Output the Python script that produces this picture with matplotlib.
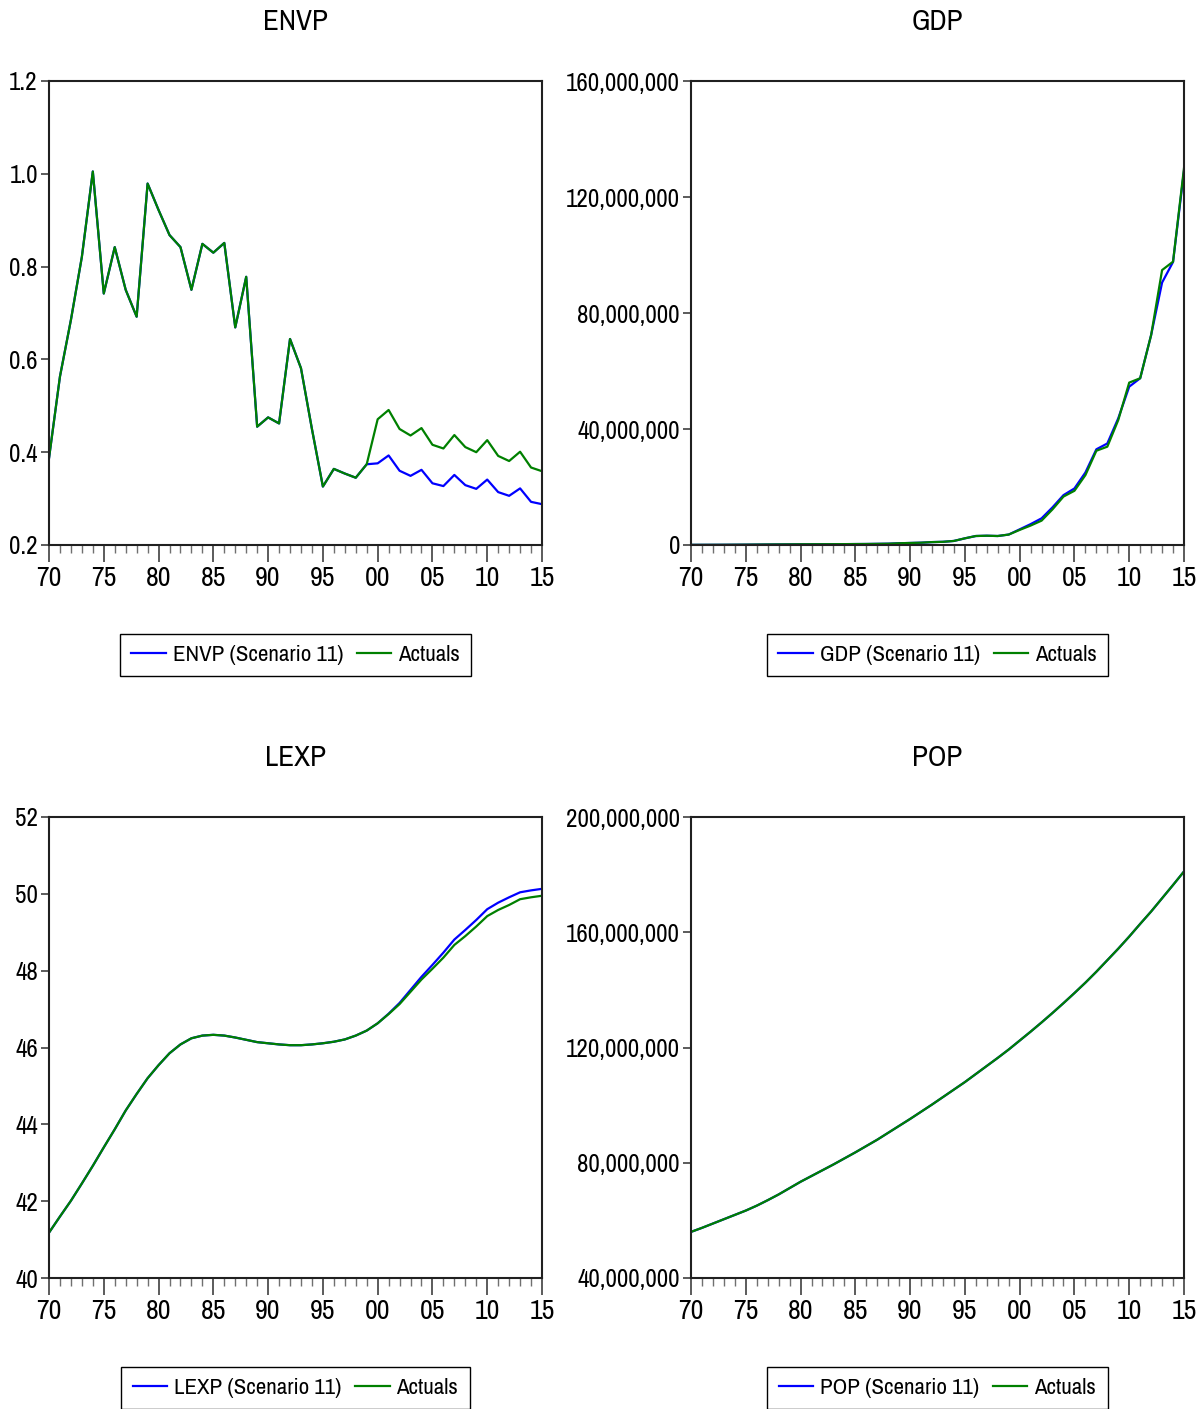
import matplotlib
matplotlib.use("Agg")
import matplotlib.pyplot as plt
from matplotlib.ticker import FuncFormatter, MultipleLocator

plt.rcParams['font.family'] = ['Archivo Narrow', 'DejaVu Sans']

years = list(range(1970, 2016))

# ENVP
envp_act = [0.387, 0.563, 0.685, 0.821, 1.005, 0.742, 0.842, 0.750, 0.692, 0.979,
            0.922, 0.868, 0.842, 0.750, 0.849, 0.830, 0.851, 0.669, 0.778, 0.455,
            0.475, 0.462, 0.644, 0.581, 0.450, 0.326, 0.364, 0.354, 0.345, 0.374,
            0.471, 0.491, 0.450, 0.436, 0.452, 0.416, 0.408, 0.437, 0.411, 0.400,
            0.426, 0.392, 0.381, 0.401, 0.367, 0.359]
envp_scen = [0.387, 0.563, 0.685, 0.821, 1.005, 0.742, 0.842, 0.750, 0.692, 0.979,
             0.922, 0.868, 0.842, 0.750, 0.849, 0.830, 0.851, 0.669, 0.778, 0.455,
             0.475, 0.462, 0.644, 0.581, 0.450, 0.326, 0.364, 0.354, 0.345, 0.374,
             0.376, 0.393, 0.360, 0.349, 0.362, 0.333, 0.327, 0.351, 0.329, 0.321,
             0.341, 0.314, 0.306, 0.322, 0.293, 0.288]

# GDP (millions)
gdp_act = [0.05, 0.06, 0.07, 0.08, 0.10, 0.12, 0.15, 0.18, 0.20, 0.22,
           0.25, 0.26, 0.27, 0.28, 0.30, 0.33, 0.35, 0.40, 0.45, 0.60,
           0.70, 0.80, 1.0, 1.1, 1.4, 2.3, 3.1, 3.2, 3.1, 3.6,
           5.2, 6.7, 8.4, 12.3, 16.7, 18.7, 24.1, 32.5, 33.9, 43.1,
           56.0, 57.5, 72.4, 94.8, 97.7, 130.0]
gdp_scen = [0.05, 0.06, 0.07, 0.08, 0.10, 0.12, 0.15, 0.18, 0.20, 0.22,
            0.25, 0.26, 0.27, 0.28, 0.30, 0.33, 0.35, 0.40, 0.45, 0.60,
            0.70, 0.80, 1.0, 1.1, 1.4, 2.3, 3.1, 3.2, 3.1, 3.6,
            5.4, 7.2, 9.2, 13.0, 17.2, 19.5, 25.0, 33.0, 35.0, 43.7,
            54.6, 57.5, 72.4, 90.5, 97.6, 129.0]

# LEXP
lexp_act = [41.18, 41.60, 42.01, 42.46, 42.92, 43.40, 43.87, 44.36, 44.79, 45.20,
            45.54, 45.85, 46.08, 46.24, 46.31, 46.33, 46.31, 46.26, 46.20, 46.14,
            46.11, 46.08, 46.06, 46.06, 46.08, 46.11, 46.15, 46.21, 46.31, 46.44,
            46.63, 46.87, 47.13, 47.45, 47.77, 48.05, 48.34, 48.67, 48.90, 49.15,
            49.42, 49.58, 49.71, 49.86, 49.91, 49.95]
lexp_scen = [41.18, 41.60, 42.01, 42.46, 42.92, 43.40, 43.87, 44.36, 44.79, 45.20,
             45.54, 45.85, 46.08, 46.24, 46.31, 46.33, 46.31, 46.26, 46.20, 46.14,
             46.11, 46.08, 46.06, 46.06, 46.08, 46.11, 46.15, 46.21, 46.31, 46.44,
             46.63, 46.88, 47.16, 47.50, 47.84, 48.15, 48.47, 48.81, 49.06, 49.32,
             49.60, 49.77, 49.91, 50.04, 50.09, 50.13]

# POP (millions)
pop_act = [56.0, 57.4, 58.9, 60.4, 61.9, 63.4, 65.1, 67.0, 69.0, 71.2,
           73.4, 75.4, 77.4, 79.4, 81.5, 83.6, 85.8, 88.0, 90.4, 92.8,
           95.2, 97.7, 100.2, 102.8, 105.4, 108.0, 110.8, 113.6, 116.4, 119.3,
           122.4, 125.5, 128.7, 132.0, 135.4, 138.9, 142.5, 146.3, 150.3, 154.3,
           158.5, 162.9, 167.2, 171.8, 176.4, 181.1]
pop_scen = [56.0, 57.4, 58.9, 60.4, 61.9, 63.4, 65.1, 67.0, 69.0, 71.2,
            73.4, 75.4, 77.4, 79.4, 81.5, 83.6, 85.8, 88.0, 90.4, 92.8,
            95.2, 97.7, 100.2, 102.8, 105.4, 108.0, 110.8, 113.6, 116.4, 119.3,
            122.4, 125.5, 128.7, 132.0, 135.4, 138.9, 142.5, 146.3, 150.3, 154.3,
            158.5, 162.9, 167.2, 171.8, 176.4, 181.1]

W, H = 1203, 1409
fig = plt.figure(figsize=(W / 100, H / 100), dpi=100)


def make_ax(l, r, t, b):
    return fig.add_axes([l / W, 1 - b / H, (r - l) / W, (b - t) / H])


big = FuncFormatter(lambda v, p: "{:,.0f}".format(v * 1e6))
panels = [
    ("ENVP", envp_scen, envp_act, (49, 542, 81, 545), (0.2, 1.2), 0.2,
     FuncFormatter(lambda v, p: "%.1f" % v)),
    ("GDP", gdp_scen, gdp_act, (691, 1184, 81, 545), (0, 160), 40, big),
    ("LEXP", lexp_scen, lexp_act, (49, 542, 817, 1278), (40, 52), 2,
     FuncFormatter(lambda v, p: "%d" % round(v))),
    ("POP", pop_scen, pop_act, (691, 1184, 817, 1278), (40, 200), 40, big),
]

for name, scen, act, box, ylim, ystep, fmt in panels:
    ax = make_ax(*box)
    ax.plot(years, scen, color='#0000ff', lw=1.6, label=name + " (Scenario 11)")
    ax.plot(years, act, color='#008000', lw=1.6, label="Actuals")
    ax.set_xlim(1970, 2015)
    ax.set_ylim(*ylim)
    ax.yaxis.set_major_locator(MultipleLocator(ystep))
    ax.yaxis.set_major_formatter(fmt)
    ax.xaxis.set_major_locator(MultipleLocator(5))
    ax.xaxis.set_minor_locator(MultipleLocator(1))
    ax.xaxis.set_major_formatter(FuncFormatter(lambda v, p: "%02d" % (int(round(v)) % 100)))
    ax.tick_params(axis='x', which='major', length=12, width=1.2, labelsize=20, pad=3,
                   color='#404040')
    ax.tick_params(axis='x', which='minor', length=6, width=1, color='#707070')
    ax.tick_params(axis='y', which='major', length=6, width=1.2, labelsize=18, pad=2,
                   color='#404040')
    for s in ax.spines.values():
        s.set_linewidth(1.5)
        s.set_color('#202020')
    cx = (box[0] + box[1]) / 2 / W
    ty = 1 - (box[2] - 59) / H
    fig.text(cx, ty, name, ha='center', va='center', fontsize=21)
    bh = box[3] - box[2]
    ax.legend(loc='center', bbox_to_anchor=(0.5, -110.0 / bh), ncol=2, fontsize=16.5,
              frameon=True, fancybox=False, edgecolor='black', framealpha=1,
              handlelength=1.5, handletextpad=0.3, columnspacing=0.6,
              borderpad=0.5, borderaxespad=0)

fig.savefig("out.png", dpi=100)
